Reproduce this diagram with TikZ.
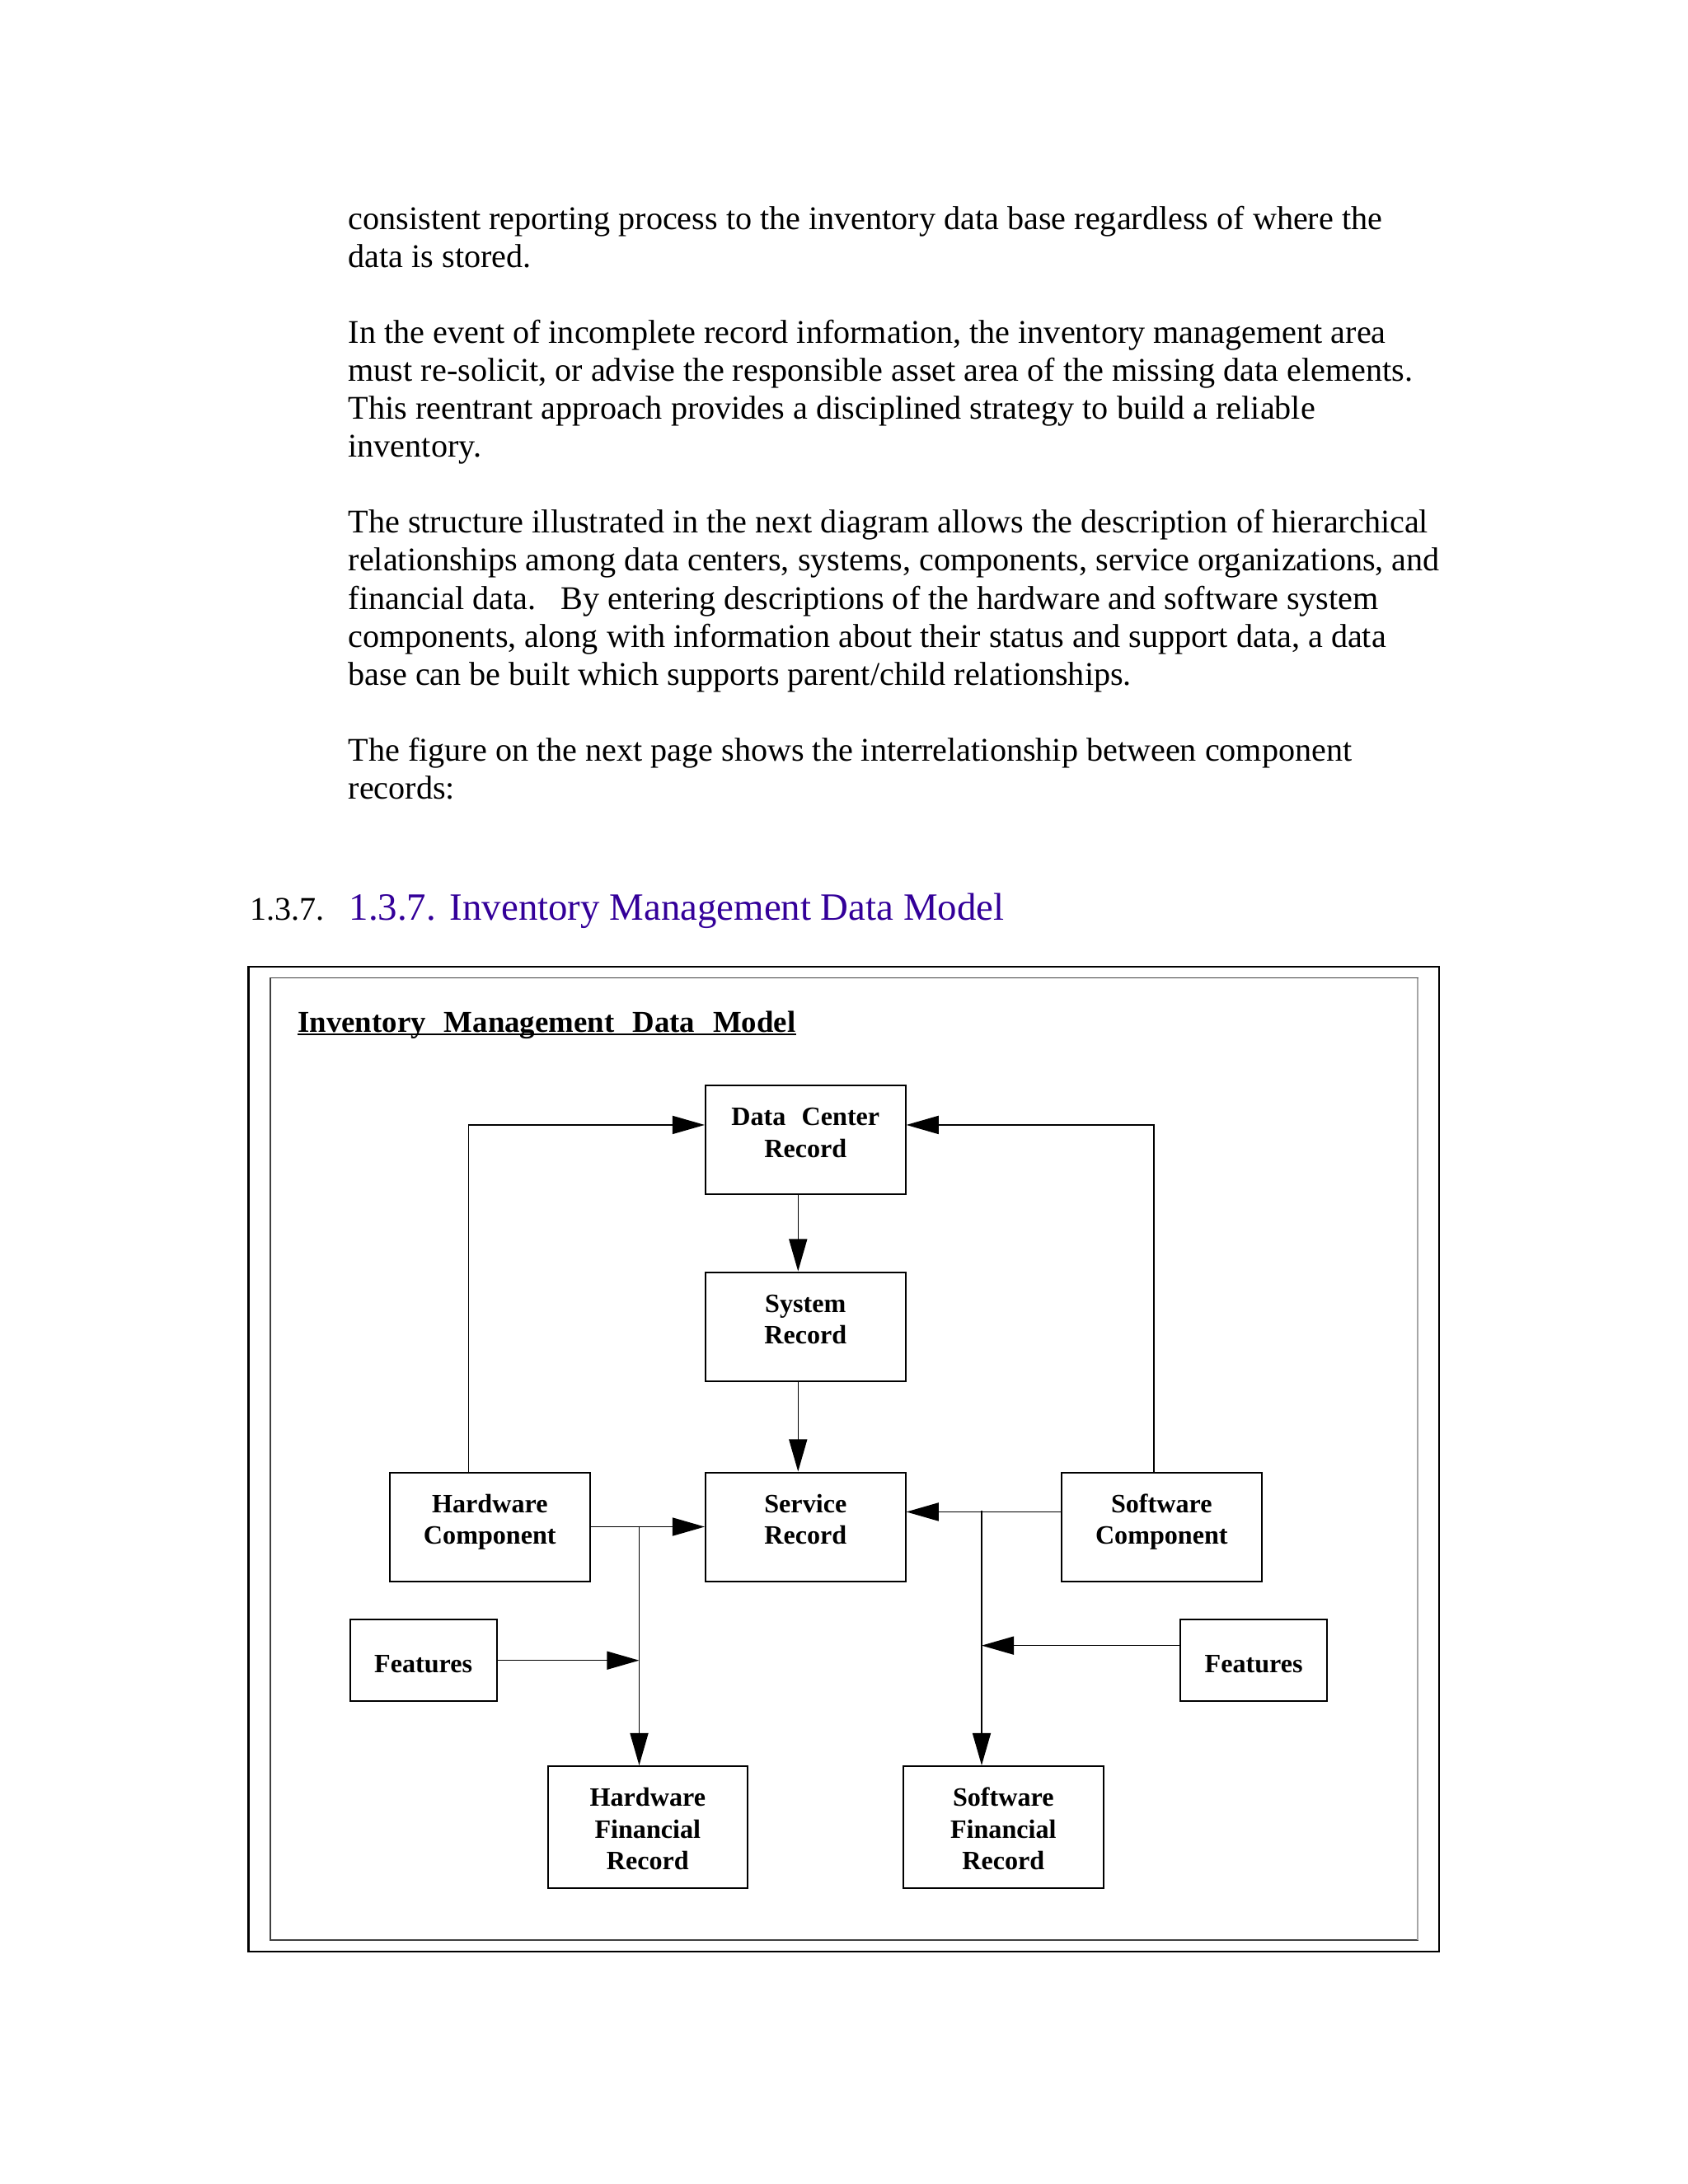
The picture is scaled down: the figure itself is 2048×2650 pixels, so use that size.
\documentclass[tikz,border=0pt]{standalone}
\usepackage{fontspec}
\setmainfont{Liberation Serif}
\usetikzlibrary{arrows.meta}
\definecolor{headblue}{RGB}{51,0,153}
\tikzset{
  txt/.style={anchor=base west, inner sep=0pt, font=\fontsize{12}{14}\selectfont},
  recbox/.style={draw, line width=.6pt, anchor=north west, align=center, inner sep=0pt,
    minimum width=72.5pt, font=\fontsize{9.6}{11.5}\selectfont\bfseries,
    text height=26.1pt, text depth=13.35pt},
  finbox/.style={recbox, text height=37.5pt, text depth=6.8pt},
  featbox/.style={recbox, minimum width=53.3pt, text height=19.4pt, text depth=10.3pt},
  arr/.style={line width=.45pt, -{Triangle[length=11.7pt,width=6.6pt]}},
}
\newcommand{\wgap}{\hspace{.6em}}

\begin{document}
\begin{tikzpicture}[x=0.29883pt, y=-0.29883pt]
  \useasboundingbox (0,0) rectangle (2048,2650);
  % running text above the figure
  \foreach \k/\words in {
      0/{consistent reporting process to the inventory data base regardless of where the},
      1/{data is stored.},
      3/{In the event of incomplete record information, the inventory management area},
      4/{must re-solicit, or advise the responsible asset area of the missing data elements.},
      5/{This reentrant approach provides a disciplined strategy to build a reliable},
      6/{inventory.},
      8/{The structure illustrated in the next diagram allows the description of hierarchical},
      9/{relationships among data centers, systems, components, service organizations, and},
      10/{financial data.\ \ \ By entering descriptions of the hardware and software system},
      11/{components, along with information about their status and support data, a data},
      12/{base can be built which supports parent/child relationships.},
      14/{The figure on the next page shows the interrelationship between component},
      15/{records:}}
    \node[txt] (line\k) at (422,{278+46.1*\k}) {\words};
  \node[txt] (secnum) at (302.5,1116) {1.3.7.};
  \node[txt, font=\fontsize{14}{17}\selectfont, text=headblue] (sec) at (423,1116)
    {1.3.7.\hspace{5pt}Inventory Management Data Model};

  % frame
  \draw[line width=.6pt] (301.5,1172.7) rectangle (1746,2368);
  \draw[line width=.4pt, black!75] (328,1186.5) rectangle (1720,2354);
  \draw[line width=.4pt, gray!70] (1720,1186.5) -- (1720,2354);
  \node[txt, font=\fontsize{11}{13}\selectfont\bfseries] (ttl) at (360.7,1252.7)
    {Inventory\wgap Management\wgap Data\wgap Model};
  \draw[line width=.5pt] ([yshift=-.6pt]ttl.base west) -- ([yshift=-.6pt]ttl.base east);

  % records
  \node[recbox] (dc) at (855,1316) {Data\wgap Center\\Record};
  \node[recbox] (sys) at (855,1542.5) {System\\Record};
  \node[recbox] (svc) at (855,1785.5) {Service\\Record};
  \node[recbox] (hwc) at (472,1785.5) {Hardware\\Component};
  \node[recbox] (swc) at (1287,1785.5) {Software\\Component};
  \node[featbox] (ftl) at (423.5,1964) {Features};
  \node[featbox] (ftr) at (1431,1964) {Features};
  \node[finbox] (hwf) at (663.5,2142) {Hardware\\Financial\\Record};
  \node[finbox] (swf) at (1095,2142) {Software\\Financial\\Record};

  % links
  \coordinate (hwj) at (775.5,1851.5);
  \coordinate (swj) at (1191,1833.4);
  \draw[arr] ([xshift=-7.7pt]hwc.north) |- ([yshift=5.4pt]dc.west);
  \draw[arr] ([xshift=-2.8pt]swc.north) |- ([yshift=5.4pt]dc.east);
  \draw[arr] ([xshift=-2.7pt]dc.south) -- ([xshift=-2.7pt]sys.north);
  \draw[arr] ([xshift=-2.7pt]sys.south) -- ([xshift=-2.7pt]svc.north);
  \draw[arr] (hwc.east) -- (svc.west);
  \draw[arr] (hwj) -- (hwj |- hwf.north);
  \draw[arr] (ftl.east) -- (ftl.east -| hwj);
  \draw[arr] ([yshift=5.4pt]swc.west) -- ([yshift=5.4pt]svc.east);
  \draw[arr] (swj) -- (swj |- swf.north);
  \draw[arr] ([yshift=5.4pt]ftr.west) -- ([yshift=5.4pt]ftr.west -| swj);
\end{tikzpicture}
\end{document}
